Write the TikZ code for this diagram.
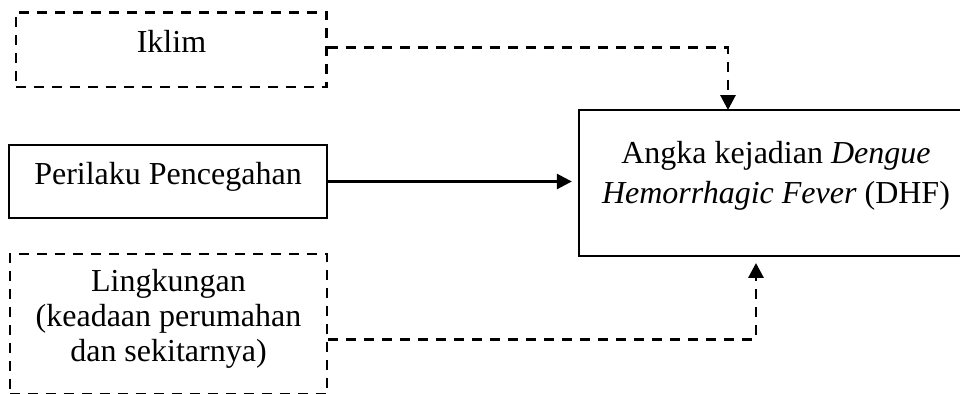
\documentclass[tikz,border=0pt]{standalone}
\usepackage{fontspec}
\setmainfont{Liberation Serif}
\usetikzlibrary{arrows.meta}

\begin{document}
\begin{tikzpicture}[x=0.375pt,y=-0.375pt]
            \useasboundingbox (0,0) rectangle (960,394);
            \begin{scope}[every node/.style={rectangle,draw=black,line width=0.95pt,align=center,
                          font=\fontsize{12}{13.1}\selectfont},
                          satu/.style={text height=9pt,text depth=6.8pt},
                          putus/.style={line width=1.1pt,dash pattern=on 3.75pt off 3pt}]
                \node[putus,satu,minimum width=116.6pt,minimum height=28.1pt] (iklim) at (171.5,49.5) {Iklim};
                \node[satu,minimum width=119.25pt,minimum height=27.4pt] (perilaku) at (168,181.5) {Perilaku Pencegahan};
                \node[putus,minimum width=118.9pt,minimum height=52.7pt,text depth=6.5pt] (lingkungan) at (168.5,324.25)
                    {Lingkungan\\(keadaan perumahan\\dan sekitarnya)};
                \node[minimum width=147.75pt,minimum height=54.75pt,text depth=8.2pt,
                      font=\fontsize{12}{15}\selectfont] (dhf) at (776,183)
                    {Angka kejadian \textit{Dengue}\\\textit{Hemorrhagic Fever} (DHF)};
            \end{scope}

            \coordinate (atas) at (728,110);
            \coordinate (bawah) at (756,256);

            \begin{scope}[>={Triangle[length=5.6pt,width=5.6pt]},
                          every path/.style={draw=black,line width=0.95pt},
                          putus/.style={line width=1.1pt,dash pattern=on 3.75pt off 3pt}]
                \draw [->,putus] ([yshift=0.9pt]iklim.east) -| (atas);
                \draw [->,shorten >=2.2pt] (perilaku.east) -- (perilaku.east -| dhf.west);
                \draw [->,putus,shorten >=2.6pt] ([yshift=-5.6pt]lingkungan.east) -| (bawah);
            \end{scope}
        \end{tikzpicture}
\end{document}
